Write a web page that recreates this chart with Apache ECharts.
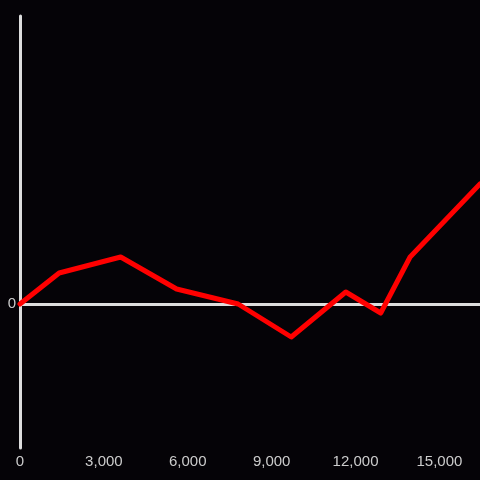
<!DOCTYPE html>
<html><head><meta charset="utf-8">
<script src="https://cdn.jsdelivr.net/npm/echarts@6/dist/echarts.min.js"></script>
<style>html,body{margin:0;padding:0;background:#050307;}#c{width:480px;height:480px;}</style>
</head><body><div id="c"></div>
<script>
const xValues = [0, 1400, 3600, 5600, 7800, 9700, 11650, 12900, 13950, 16450];
const yValues = [0, 31, 47, 15, 0, -33, 12, -9, 47, 120];
const xTicks = [0, 3000, 6000, 9000, 12000, 15000];
const yTicks = [0];

const chart = echarts.init(document.getElementById('c'), null, {renderer: 'canvas'});
chart.setOption({
  backgroundColor: '#050307',
  animation: false,
  grid: {left: 20, right: 0, top: 16, bottom: 32, containLabel: false},
  xAxis: {
    type: 'value', min: 0, max: 16450, interval: 3000,
    axisLine: {show: false}, axisTick: {show: false}, splitLine: {show: false},
    axisLabel: {color: '#cccccc', fontSize: 15, fontFamily: 'Liberation Sans, Arial, sans-serif', margin: 6,
      showMaxLabel: false,
      formatter: v => xTicks.includes(v) ? v.toLocaleString('en-US') : ''}
  },
  yAxis: {
    type: 'value', min: -144, max: 288, interval: 144,
    axisLine: {show: true, onZero: false, lineStyle: {color: '#dddddd', width: 3}},
    axisTick: {show: false}, splitLine: {show: false},
    axisLabel: {color: '#cccccc', fontSize: 15, fontFamily: 'Liberation Sans, Arial, sans-serif', margin: 4,
      showMinLabel: false, showMaxLabel: false,
      formatter: v => yTicks.includes(v) ? String(v) : ''}
  },
  series: [{
    type: 'line',
    data: xValues.map((x, i) => [x, yValues[i]]),
    symbol: 'none',
    lineStyle: {color: '#ff0000', width: 5, cap: 'round', join: 'round'},
    z: 3,
    markLine: {
      silent: true, symbol: 'none', label: {show: false},
      lineStyle: {color: '#dddddd', width: 3, type: 'solid'},
      data: [{yAxis: 0}],
      z: 2
    }
  }]
});
</script></body></html>
